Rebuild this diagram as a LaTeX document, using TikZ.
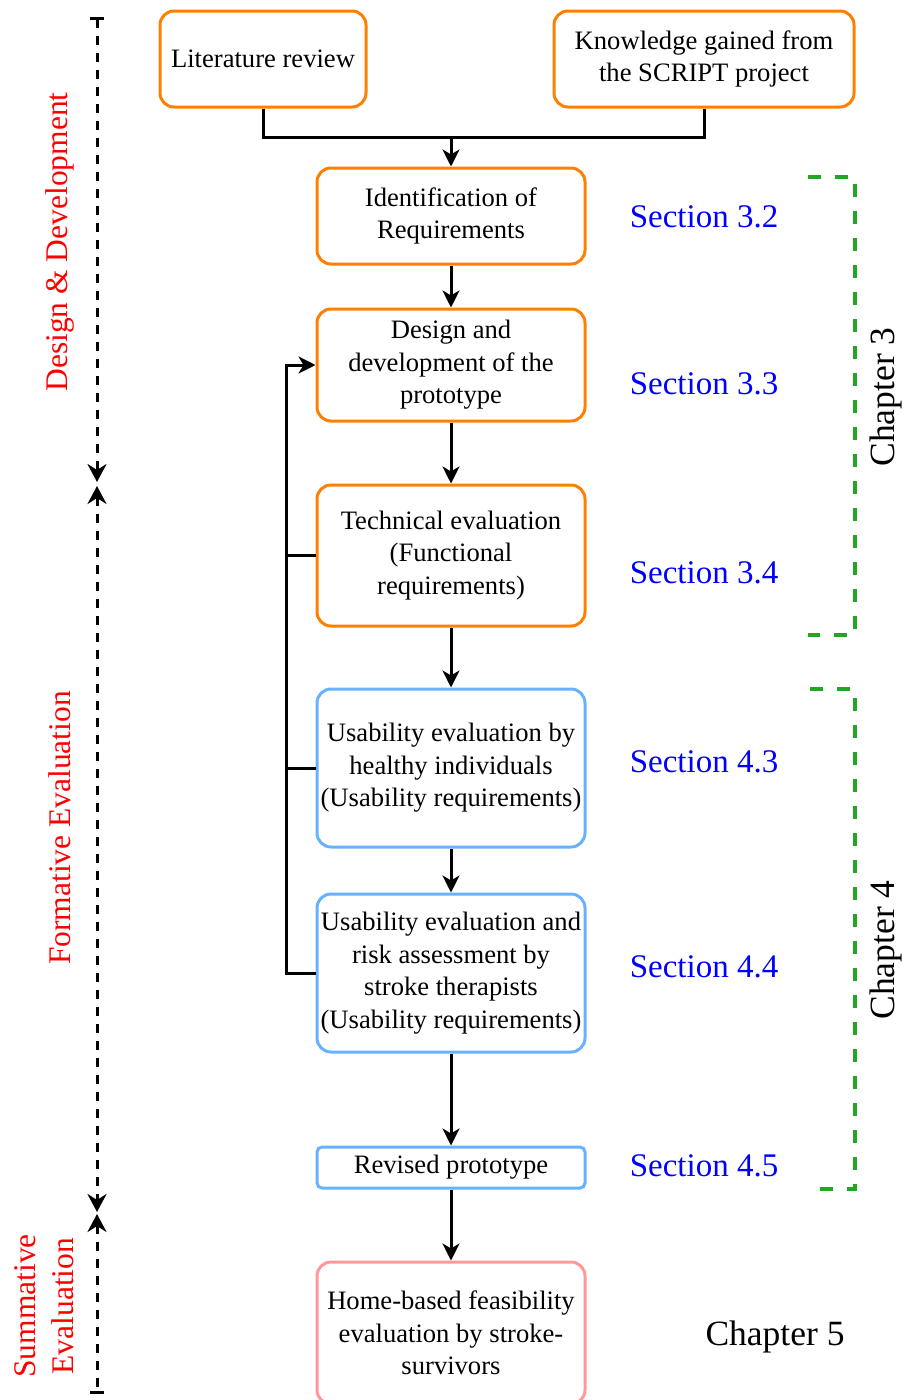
\documentclass[tikz,border=0pt]{standalone}
\usepackage{fontspec}
\setmainfont{Liberation Serif}
\usetikzlibrary{arrows.meta}
\definecolor{flowOrange}{HTML}{FF8000}
\definecolor{flowBlue}{HTML}{66B2FF}
\definecolor{flowPink}{HTML}{FF9999}
\definecolor{chapGreen}{HTML}{22A722}
\definecolor{secBlue}{HTML}{0000FF}
\begin{document}
\begin{tikzpicture}[x=1pt,y=-1pt,
  box/.style={draw, line width=3pt, rounded corners=14pt, align=center,
    inner sep=0pt, minimum width=268pt,
    font=\fontsize{26.6}{32.5}\selectfont},
  orangebox/.style={box, draw=flowOrange},
  bluebox/.style={box, draw=flowBlue},
  pinkbox/.style={box, draw=flowPink},
  link/.style={line width=3pt, draw=black},
  arrowlink/.style={link, -{Stealth[length=17pt,width=17pt,inset=5pt]}},
  section/.style={text=secBlue, font=\fontsize{33}{40}\selectfont},
  chapter/.style={text=black, font=\fontsize{35.5}{42}\selectfont},
  phase/.style={text=red, rotate=90, align=center,
    font=\fontsize{31.5}{38}\selectfont},
  bracket/.style={draw=chapGreen, line width=4pt, dash pattern=on 13pt off 14pt},
  axis/.style={line width=3pt, dash pattern=on 9pt off 8pt},
  axistip/.tip={Stealth[length=18pt,width=19pt,inset=6pt]},
  axisbar/.tip={Bar[width=14pt]}
]
\useasboundingbox (0,0) rectangle (908,1400);

% process boxes
\node[orangebox, minimum width=206pt, minimum height=96pt] (lit) at (263,59) {Literature review};
\node[orangebox, minimum width=300pt, minimum height=96pt] (know) at (704,59) {Knowledge gained from\\the SCRIPT project};
\node[orangebox, minimum height=96pt] (ident) at (451,216) {Identification of\\Requirements};
\node[orangebox, minimum height=112pt] (design) at (451,365) {Design and\\development of the\\prototype};
\node[orangebox, minimum height=141pt] (tech) at (451,555.5) {Technical evaluation\\(Functional\\requirements)};
\node[bluebox, minimum height=158pt] (usabA) at (451,768) {Usability evaluation by\\healthy individuals\\(Usability requirements)};
\node[bluebox, minimum height=158pt] (usabB) at (451,973) {Usability evaluation and\\risk assessment by\\stroke therapists\\(Usability requirements)};
\node[bluebox, rounded corners=5pt, minimum height=41pt] (revised) at (451,1167.5) {Revised prototype};
\node[pinkbox, minimum height=142pt] (home) at (451,1333) {Home-based feasibility\\evaluation by stroke-\\survivors};

% flow connectors
\coordinate (join) at (451,137);
\draw[link] (lit.south) |- (join) -| (know.south);
\draw[arrowlink] (join) -- (ident.north);
\draw[arrowlink] (ident.south) -- (design.north);
\draw[arrowlink] (design.south) -- (tech.north);
\draw[arrowlink] (tech.south) -- (usabA.north);
\draw[arrowlink] (usabA.south) -- (usabB.north);
\draw[arrowlink] (usabB.south) -- (revised.north);
\draw[arrowlink] (revised.south) -- (home.north);

% feedback loop into the prototype design
\coordinate (loop) at (286,365);
\draw[arrowlink] (usabB.west) -| (loop) -- (design.west);
\draw[link] (tech.west) -- (tech.west -| loop);
\draw[link] (usabA.west) -- (usabA.west -| loop);

% section references
\node[section] (s32) at (704,217) {Section 3.2};
\node[section] (s33) at (704,384) {Section 3.3};
\node[section] (s34) at (704,573) {Section 3.4};
\node[section] (s43) at (704,762) {Section 4.3};
\node[section] (s44) at (704,967) {Section 4.4};
\node[section] (s45) at (704,1166) {Section 4.5};

% chapter brackets
\draw[bracket] (808,177) -- (855,177) -- (855,635) -- (808,635);
\draw[bracket] (810,689) -- (855,689) -- (855,1189) -- (815,1189);
\node[chapter, rotate=90] (ch3) at (886,397) {Chapter 3};
\node[chapter, rotate=90] (ch4) at (886,950) {Chapter 4};
\node[chapter] (ch5) at (775,1337) {Chapter 5};

% phase axis on the left
\coordinate (p0) at (97,17);
\coordinate (p1) at (97,482);
\coordinate (p2) at (97,486);
\coordinate (p3) at (97,1212);
\coordinate (p4) at (97,1214);
\coordinate (p5) at (97,1394);
\draw[axis, axisbar-axistip] (p0) -- (p1);
\draw[axis, axistip-axistip] (p2) -- (p3);
\draw[axis, axistip-axisbar] (p4) -- (p5);
\node[phase] (design-phase) at (60,242) {Design \& Development};
\node[phase] (formative-phase) at (60,828) {Formative Evaluation};
\node[phase] (summative-phase) at (44,1306) {Summative\\Evaluation};
\end{tikzpicture}
\end{document}
